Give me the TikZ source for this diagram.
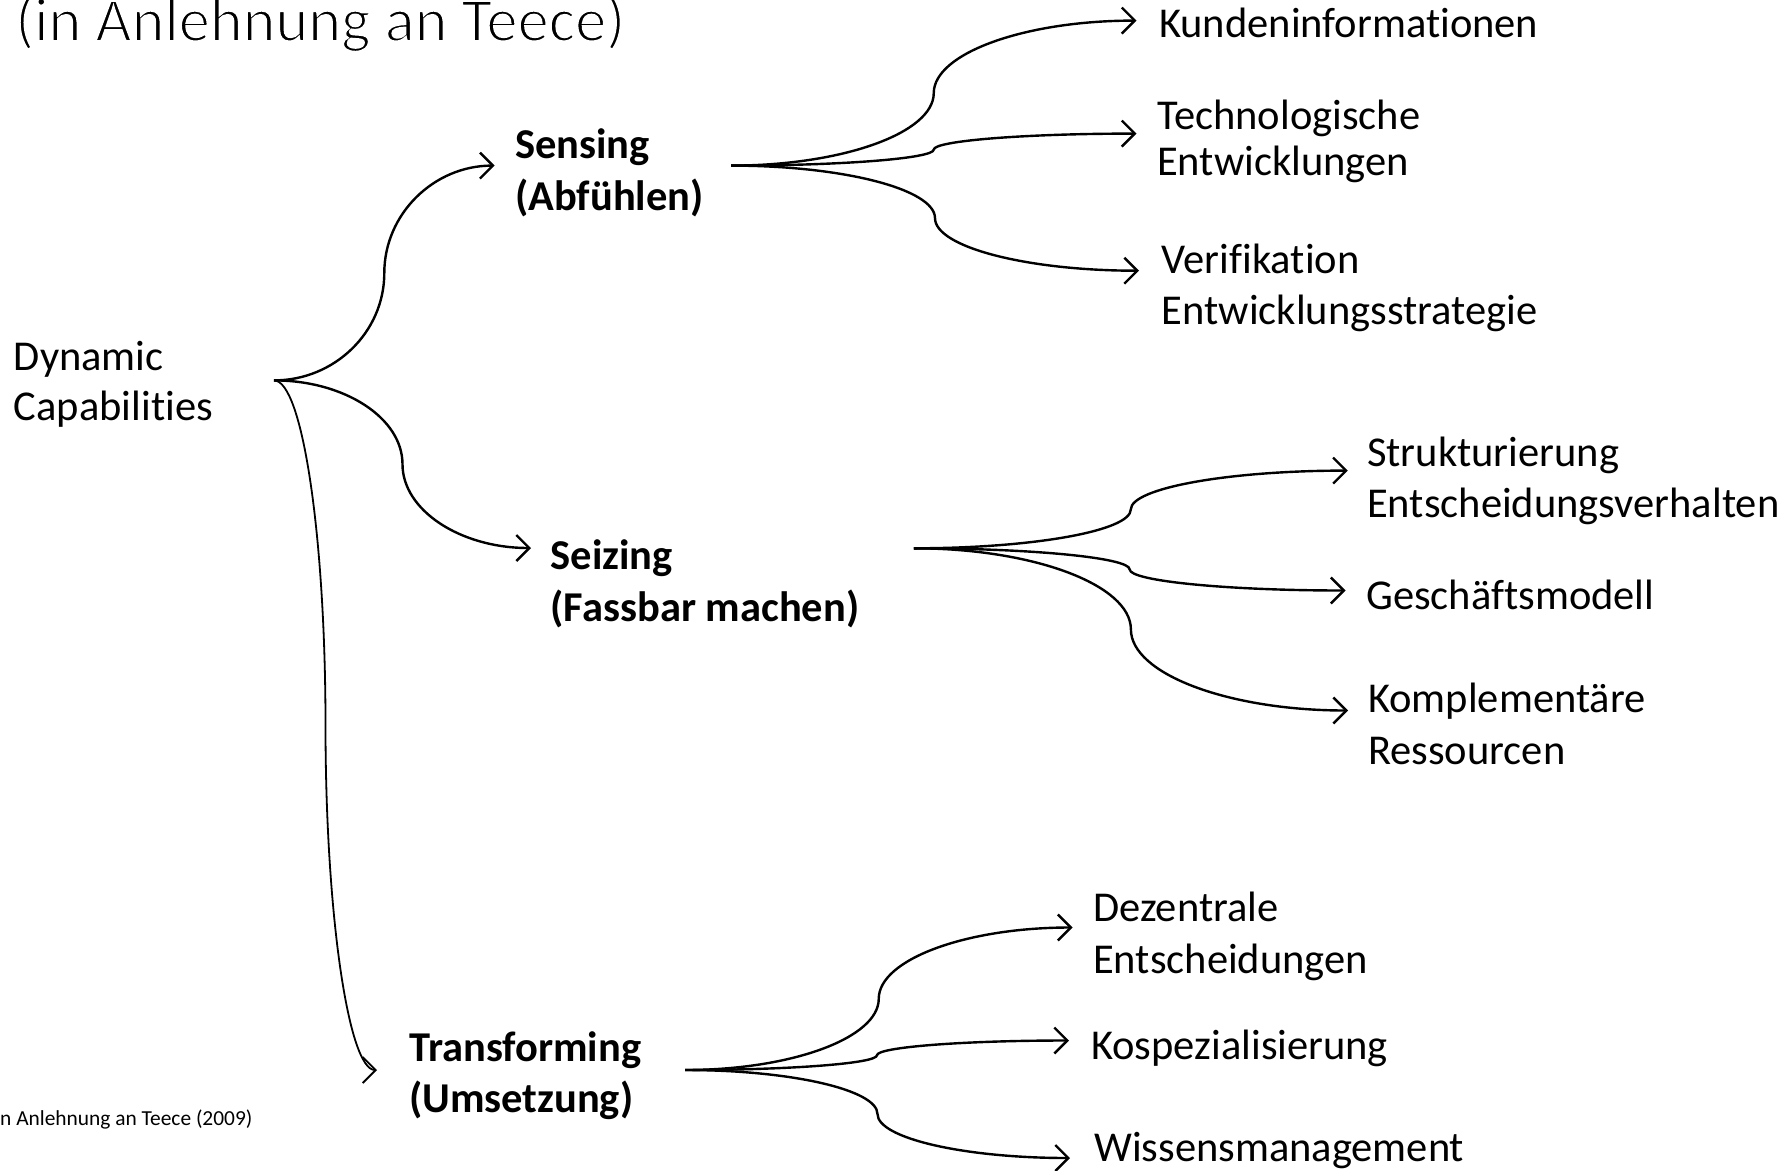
\documentclass[tikz,border=0pt]{standalone}
\usepackage{fontspec}
\setmainfont{Carlito}[Ligatures=NoCommon]
\usetikzlibrary{calc,arrows.meta}

% left-aligned stack of lines whose baseline is the first line
\newcommand\lines[1]{\begin{tabular}[t]{@{}l@{}}#1\end{tabular}}

% thinner glyph strokes for the heading (white outline over the fill)
\newcommand\lighttext[1]{\special{pdf:literal direct 2 Tr 1 1 1 RG 1.9 w}#1\special{pdf:literal direct 0 Tr 0 0 0 RG}}

% brace-shaped connector: horizontal at both ends, vertical half way
\newcommand\bracelink[3][]{%
  \draw[link,#1] let \p1=(#2), \p2=(#3), \p3=($(\p1)!0.5!(\p2)$) in
    (\p1) .. controls ($(\p1)!0.55!(\x3,\y1)$) and ($(\p3)!0.55!(\x3,\y1)$) .. (\p3)
          .. controls ($(\p3)!0.55!(\x3,\y2)$) and ($(\p2)!0.55!(\x3,\y2)$) .. (\p2);}

\tikzset{
  txt/.style={inner sep=0pt, anchor=base west, font=\fontsize{42.5}{51.5}\selectfont},
  head/.style={txt, font=\bfseries\fontsize{42.5}{51.5}\selectfont},
  link/.style={line width=2.4pt, -{Straight Barb[length=13pt,width=26pt]}},
  thinlink/.style={line width=1.8pt}
}

\begin{document}
\begin{tikzpicture}[x=1pt,y=-1pt]
\useasboundingbox (0,0) rectangle (1791,1170);
\clip (0,0) rectangle (1791,1170);

% heading and source line
\node[txt, font=\fontsize{62.5}{70}\selectfont] (title) at (15,41) {\lighttext{(in Anlehnung an Teece)}};
\node[txt, font=\fontsize{21.4}{25}\selectfont] (src) at (0,1125) {n Anlehnung an Teece (2009)};

% root and the three capabilities
\node[txt, font=\fontsize{42.5}{50}\selectfont] (dc) at (13.7,370) {\lines{Dynamic\\Capabilities}};
\node[head] (sens)  at (515,158.8)   {\lines{Sensing\\(Abfühlen)}};
\node[head] (seiz)  at (550.5,569.7) {\lines{Seizing\\(Fassbar machen)}};
\node[head] (trans) at (409,1061)    {\lines{Transforming\\(Umsetzung)}};

% leaves
\node[txt] (kunde)  at (1159,37)     {Kundeninformationen};
\node[txt, font=\fontsize{42.5}{46}\selectfont] (tech) at (1157,129.5) {\lines{Technologische\\Entwicklungen}};
\node[txt] (verif)  at (1161.6,273)  {\lines{Verifikation\\Entwicklungsstrategie}};
\node[txt] (strukt) at (1367,466)    {\lines{Strukturierung\\Entscheidungsverhalten}};
\node[txt] (gesch)  at (1366,609.6)  {Geschäftsmodell};
\node[txt] (kompl)  at (1368,712.6)  {\lines{Komplementäre\\Ressourcen}};
\node[txt] (dez)    at (1093,921.5)  {\lines{Dezentrale\\Entscheidungen}};
\node[txt] (kosp)   at (1091,1059.7) {Kospezialisierung};
\node[txt] (wiss)   at (1094,1161)   {Wissensmanagement};

% fork points
\coordinate (dcOut)    at (274,380.4);
\coordinate (sensOut)  at (731,165.6);
\coordinate (seizOut)  at (913.8,548.3);
\coordinate (transOut) at (685,1070);

% connectors
\bracelink{dcOut}{$(sens.base west)+(-20.4,6.8)$}
\bracelink{dcOut}{$(seiz.base west)+(-19.5,-21.7)$}
\bracelink[thinlink]{dcOut}{$(trans.base west)+(-32,9)$}

\bracelink{sensOut}{$(kunde.base west)+(-22.5,-16.4)$}
\bracelink{sensOut}{$(tech.base west)+(-20.5,4.1)$}
\bracelink{sensOut}{$(verif.base west)+(-22.6,-2.3)$}

\bracelink{seizOut}{$(strukt.base west)+(-19.2,4.6)$}
\bracelink{seizOut}{$(gesch.base west)+(-20.5,-19.1)$}
\bracelink{seizOut}{$(kompl.base west)+(-20,-2.1)$}

\bracelink{transOut}{$(dez.base west)+(-20.5,6)$}
\bracelink{transOut}{$(kosp.base west)+(-22,-19.2)$}
\bracelink{transOut}{$(wiss.base west)+(-24,-3)$}
\end{tikzpicture}
\end{document}
